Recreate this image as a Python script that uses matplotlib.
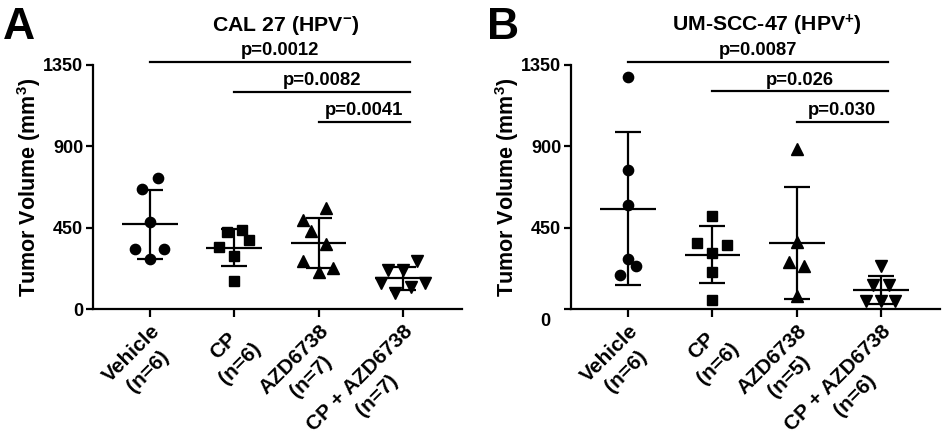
import numpy as np
import matplotlib
matplotlib.use("Agg")
import matplotlib.pyplot as plt

plt.rcParams["font.family"] = ["Liberation Sans", "DejaVu Sans"]
plt.rcParams["font.weight"] = "bold"
plt.rcParams["mathtext.fontset"] = "custom"
plt.rcParams["mathtext.rm"] = "Liberation Sans:bold"
plt.rcParams["mathtext.bf"] = "Liberation Sans:bold"
plt.rcParams["mathtext.it"] = "Liberation Sans:bold"
plt.rcParams["mathtext.default"] = "bf"

# ── data (tumor volume, mm^3) ────────────────────────────────────────────────
labels_a = ["Vehicle\n(n=6)", "CP\n(n=6)", "AZD6738\n(n=7)", "CP + AZD6738\n(n=7)"]
labels_b = ["Vehicle\n(n=6)", "CP\n(n=6)", "AZD6738\n(n=5)", "CP + AZD6738\n(n=6)"]

cal27_vehicle = [727, 665, 484, 332, 332, 274]
cal27_cp = [435, 425, 383, 343, 295, 157]
cal27_azd = [560, 495, 433, 359, 263, 227, 203]
cal27_combo = [267, 214, 214, 144, 144, 122, 88]

um47_vehicle = [1285, 770, 573, 278, 236, 190]
um47_cp = [516, 365, 355, 309, 204, 52]
um47_azd = [886, 368, 258, 239, 70]
um47_combo = [236, 134, 134, 42, 42, 42]

# horizontal scatter offsets (group units) so points do not overlap
cal27_offsets = [
    [0.09, -0.09, 0.0, -0.18, 0.17, 0.0],
    [0.09, -0.09, 0.18, -0.18, 0.0, 0.0],
    [0.09, -0.18, -0.09, 0.09, -0.18, 0.17, 0.0],
    [0.17, -0.18, 0.0, -0.26, 0.26, 0.09, -0.09],
]
um47_offsets = [
    [0.0, 0.0, 0.0, 0.0, 0.09, -0.09],
    [0.0, -0.18, 0.17, 0.0, 0.0, 0.0],
    [0.0, 0.0, -0.09, 0.09, 0.0],
    [0.0, -0.09, 0.09, -0.18, 0.0, 0.17],
]

cal27_pvals = ["p=0.0012", "p=0.0082", "p=0.0041"]
um47_pvals = ["p=0.0087", "p=0.026", "p=0.030"]
pbar_heights_a = [1367, 1203, 1035]
pbar_heights_b = [1365, 1204, 1033]

MARKERS = ["o", "s", "^", "v"]
MSIZE = [7.4, 6.8, 8.0, 8.0]
LW = 1.6


def draw_panel(ax, groups, offsets, labels, title, pvals, pheights, title_x):
    for i, (vals, offs) in enumerate(zip(groups, offsets)):
        vals = np.asarray(vals, dtype=float)
        mean = vals.mean()
        sd = vals.std(ddof=1)
        ax.plot(i + np.asarray(offs), vals, MARKERS[i], color="black",
                markersize=MSIZE[i], zorder=3, clip_on=False)
        ax.hlines(mean, i - 0.33, i + 0.33, color="black", lw=LW, zorder=2)
        ax.errorbar(i, mean, yerr=sd, fmt="none", ecolor="black",
                    elinewidth=LW, capsize=9.4, capthick=LW, zorder=2)

    # significance bars
    for start, (txt, h) in enumerate(zip(pvals, pheights)):
        ax.plot([start, 3.08], [h, h], color="black", lw=LW, clip_on=False)
        ax.text((start + 3.08) / 2, h + 38, txt, ha="center", va="baseline",
                fontsize=13.3, fontweight="bold")

    ax.set_xlim(-0.676, 3.70)
    ax.set_ylim(0, 1350)
    ax.set_yticks([0, 450, 900, 1350])
    ax.set_xticks(range(4))
    ax.set_xticklabels(labels, rotation=45, ha="right", va="top",
                       rotation_mode="anchor", fontsize=15,
                       fontweight="bold", multialignment="center",
                       linespacing=1.35)
    ax.spines["top"].set_visible(False)
    ax.spines["right"].set_visible(False)
    for s in ("left", "bottom"):
        ax.spines[s].set_linewidth(LW)
    ax.tick_params(axis="y", length=5, width=LW, labelsize=13, pad=2)
    ax.tick_params(axis="x", length=6, width=LW, pad=3)
    for lab in ax.get_yticklabels():
        lab.set_fontweight("bold")

    ax.set_ylabel(r"Tumor Volume (mm$^{3}$)", fontsize=15.5, fontweight="bold")
    ax.yaxis.set_label_coords(-0.135, 0.5)
    ax.text(title_x, 1.139, title, transform=ax.transAxes, ha="center",
            va="baseline", fontsize=15.3, fontweight="bold")


fig = plt.figure(figsize=(9.44, 4.37), dpi=100)
ax_a = fig.add_axes([0.0985, 0.2929, 0.3909, 0.5584])
ax_b = fig.add_axes([0.6049, 0.2929, 0.3909, 0.5584])

draw_panel(ax_a, [cal27_vehicle, cal27_cp, cal27_azd, cal27_combo],
           cal27_offsets, labels_a, r"CAL 27 (HPV$^{-}$)",
           cal27_pvals, pbar_heights_a, 0.523)
draw_panel(ax_b, [um47_vehicle, um47_cp, um47_azd, um47_combo],
           um47_offsets, labels_b, r"UM-SCC-47 (HPV$^{+}$)",
           um47_pvals, pbar_heights_b, 0.532)

# panel B draws its "0" label a little below the axis
ax_b.set_yticklabels(["", "450", "900", "1350"])
ax_b.text(-0.057, -0.053, "0", transform=ax_b.transAxes, ha="right",
          va="center", fontsize=13, fontweight="bold")

fig.text(3 / 944, 1 - 39 / 437, "A", fontsize=32, fontweight="bold", va="baseline")
fig.text(487 / 944, 1 - 39 / 437, "B", fontsize=32, fontweight="bold", va="baseline")

fig.savefig("out.png", dpi=100)
